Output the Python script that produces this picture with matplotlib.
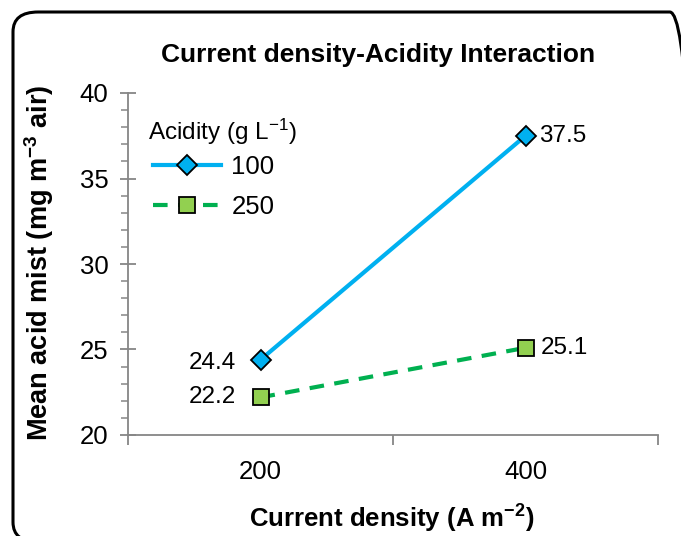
import matplotlib.pyplot as plt
from matplotlib.patches import FancyBboxPatch

plt.rcParams['font.family'] = ['Liberation Sans', 'DejaVu Sans']
plt.rcParams['mathtext.fontset'] = 'custom'
plt.rcParams['mathtext.rm'] = 'Liberation Sans'
plt.rcParams['mathtext.bf'] = 'Liberation Sans:bold'
plt.rcParams['mathtext.default'] = 'regular'

# data
current_density = ['200', '400']
acidity_levels = ['100', '250']
mist_100 = [24.4, 37.5]
mist_250 = [22.2, 25.1]

grey = '#868686'

fig = plt.figure(figsize=(6.81, 5.36), dpi=100)
ax = fig.add_axes([128 / 681, 1 - 435 / 536, 530 / 681, 342 / 536])

# rounded chart frame
frame = FancyBboxPatch((13 / 681, -6 / 536), 682 / 681, 530 / 536,
                       boxstyle='round,pad=0,rounding_size=0.037',
                       transform=fig.transFigure, fill=False,
                       edgecolor='black', linewidth=2.2, clip_on=False)
fig.patches.append(frame)

x = [1, 2]
ax.plot(x, mist_100, color='#00B0F0', lw=3, marker='D', ms=10,
        mfc='#00B0F0', mec='black', mew=1.3, label=acidity_levels[0], zorder=3)
ax.plot(x, mist_250, color='#00B050', lw=3, ls=(0, (3.5, 2.5)), marker='s', ms=11,
        mfc='#92D050', mec='black', mew=1.3, label=acidity_levels[1], zorder=3)

# value labels
offsets_100 = [(-18, -2), (10, 0)]
offsets_250 = [(-18, 0), (11, 0)]
for xi, v, off in zip(x, mist_100, offsets_100):
    ax.annotate(f'{v}', (xi, v), xytext=off, textcoords='offset points',
                ha='right' if off[0] < 0 else 'left', va='center', fontsize=17.5)
for xi, v, off in zip(x, mist_250, offsets_250):
    ax.annotate(f'{v}', (xi, v), xytext=off, textcoords='offset points',
                ha='right' if off[0] < 0 else 'left', va='center', fontsize=17.5)

ax.set_xlim(0.5, 2.5)
ax.set_ylim(20, 40)
ax.set_xticks([0.5, 1.5, 2.5])
ax.set_xticklabels([])
ax.set_xticks(x, minor=True)
ax.set_xticklabels(current_density, minor=True, fontsize=18.5)
ax.tick_params(axis='x', which='major', direction='out', length=7, color=grey, width=1.3)
ax.tick_params(axis='x', which='minor', length=0, pad=18)

ax.set_yticks([20, 25, 30, 35, 40])
ax.set_yticks(range(20, 41), minor=True)
ax.tick_params(axis='y', which='major', direction='inout', length=12, color=grey,
               width=1.3, labelsize=18.5, pad=8)
ax.tick_params(axis='y', which='minor', direction='out', length=5, color=grey, width=1.1)

for s in ['top', 'right']:
    ax.spines[s].set_visible(False)
for s in ['left', 'bottom']:
    ax.spines[s].set_color(grey)
    ax.spines[s].set_linewidth(1.3)

ax.set_xlabel(r'Current density (A m$\mathbf{^{-2}}$)', fontsize=18.5, fontweight='bold')
ax.set_ylabel(r'Mean acid mist (mg m$\mathbf{^{-3}}$ air)', fontsize=19.5, fontweight='bold')
ax.xaxis.set_label_coords(0.497, -0.197)
ax.yaxis.set_label_coords(-0.135, 0.504)
fig.text(378 / 681, 1 - 55 / 536, 'Current density-Acidity Interaction', ha='center', va='center',
         fontsize=19, fontweight='bold')

# legend with its heading drawn separately
ax.text(0.038, 0.886, r'Acidity (g L$^{-1}$)', transform=ax.transAxes,
        ha='left', va='center', fontsize=17.5)
ax.legend(loc='upper left', bbox_to_anchor=(0.028, 0.850),
          frameon=False, fontsize=18.5, handlelength=2.65,
          handletextpad=0.4, labelspacing=0.63, borderaxespad=0)

fig.savefig('out.png', dpi=100)
